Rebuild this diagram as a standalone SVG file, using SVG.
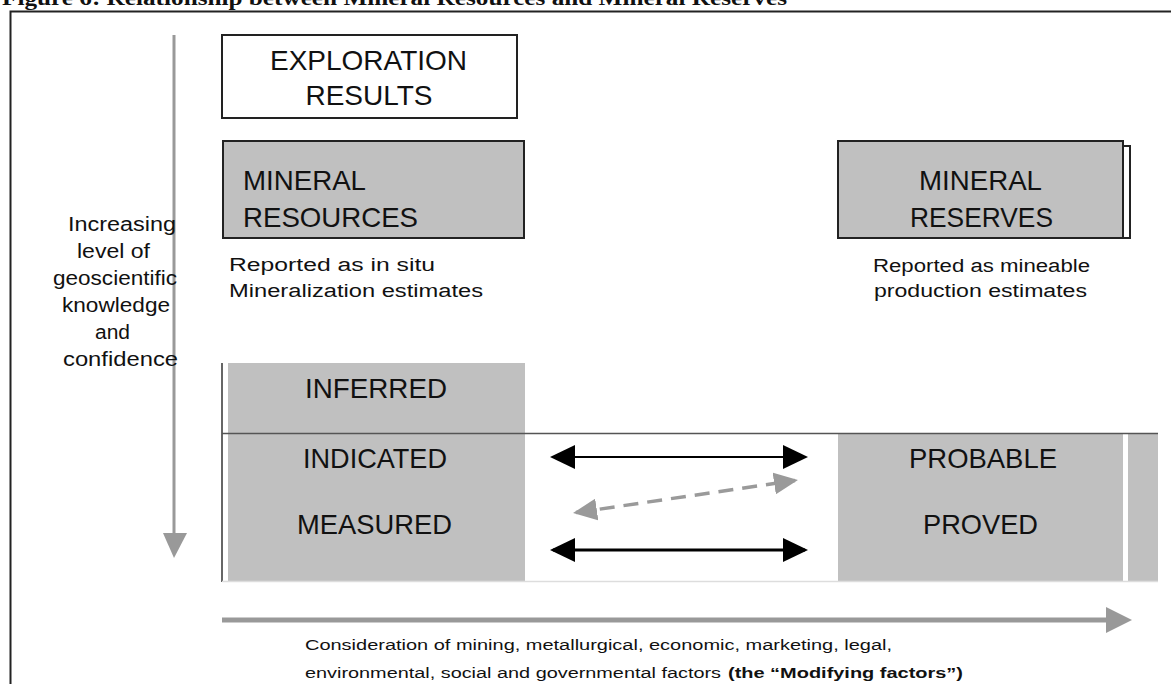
<svg xmlns="http://www.w3.org/2000/svg" width="1171" height="684" viewBox="0 0 1171 684">
<style>
  .t { font-family: "Liberation Sans", Arial, sans-serif; fill: #111; }
  .big { font-size: 28px; }
  .mid { font-size: 18px; }
  .side { font-size: 20px; }
  .sm { font-size: 15.5px; }
  .gray { fill: #c0c0c0; }
  .box { stroke: #222; stroke-width: 2; }
</style>
<defs>
  <marker id="blk" viewBox="0 0 25 24" refX="22" refY="12" markerWidth="25" markerHeight="24" markerUnits="userSpaceOnUse" orient="auto-start-reverse">
    <path d="M0,0 L25,12 L0,24 z" fill="#000"/>
  </marker>
  <marker id="gry" viewBox="0 0 24 22" refX="21" refY="11" markerWidth="24" markerHeight="22" markerUnits="userSpaceOnUse" orient="auto-start-reverse">
    <path d="M0,0 L24,11 L0,22 z" fill="#9a9a9a"/>
  </marker>
</defs>
<rect width="1171" height="684" fill="#fff"/>
<text x="2" y="5" font-family="'Liberation Serif', 'Times New Roman', serif" font-weight="bold" font-size="20" fill="#111" textLength="785" lengthAdjust="spacingAndGlyphs">Figure 6: Relationship between Mineral Resources and Mineral Reserves</text>
<path d="M10.5,684 V11.5 H1171" fill="none" stroke="#222" stroke-width="2"/>

<g id="axis-vertical">
  <line x1="174" y1="35" x2="174" y2="536" stroke="#999" stroke-width="3"/>
  <path d="M163,533 L187,533 L174,558 z" fill="#999"/>
  <g class="t side">
    <text x="68" y="231" textLength="108" lengthAdjust="spacingAndGlyphs">Increasing</text>
    <text x="77" y="258" textLength="73" lengthAdjust="spacingAndGlyphs">level of</text>
    <text x="53" y="285" textLength="124" lengthAdjust="spacingAndGlyphs">geoscientific</text>
    <text x="62" y="312" textLength="108" lengthAdjust="spacingAndGlyphs">knowledge</text>
    <text x="95" y="339" textLength="35" lengthAdjust="spacingAndGlyphs">and</text>
    <text x="63" y="366" textLength="115" lengthAdjust="spacingAndGlyphs">confidence</text>
  </g>
</g>

<g id="exploration-results">
  <rect x="222" y="35" width="295" height="83" fill="#fff" class="box"/>
  <text class="t big" x="270" y="70" textLength="197" lengthAdjust="spacingAndGlyphs">EXPLORATION</text>
  <text class="t big" x="369" y="105" text-anchor="middle">RESULTS</text>
</g>

<g id="mineral-resources">
  <rect x="223" y="141" width="301" height="97" class="gray box"/>
  <text class="t big" x="243" y="190" font-size="25" textLength="123" lengthAdjust="spacingAndGlyphs">MINERAL</text>
  <text class="t big" x="243" y="227" font-size="25" textLength="175" lengthAdjust="spacingAndGlyphs">RESOURCES</text>
  <text class="t mid" x="229" y="271" textLength="206" lengthAdjust="spacingAndGlyphs">Reported as in situ</text>
  <text class="t mid" x="229" y="297" textLength="254" lengthAdjust="spacingAndGlyphs">Mineralization estimates</text>
</g>

<g id="mineral-reserves">
  <rect x="838" y="141" width="285" height="97" class="gray box"/>
  <path d="M1123,146 H1130 V238 H1123" fill="none" stroke="#222" stroke-width="2"/>
  <text class="t big" x="919" y="190" font-size="25" textLength="123" lengthAdjust="spacingAndGlyphs">MINERAL</text>
  <text class="t big" x="910" y="227" font-size="25" textLength="143" lengthAdjust="spacingAndGlyphs">RESERVES</text>
  <text class="t mid" x="873" y="272" textLength="217" lengthAdjust="spacingAndGlyphs">Reported as mineable</text>
  <text class="t mid" x="874" y="297" textLength="213" lengthAdjust="spacingAndGlyphs">production estimates</text>
</g>

<g id="inferred">
  <rect x="228" y="363" width="297" height="71" class="gray"/>
  <text class="t big" x="305" y="398" textLength="142" lengthAdjust="spacingAndGlyphs">INFERRED</text>
</g>

<g id="indicated-measured">
  <rect x="228" y="434" width="297" height="147" class="gray"/>
  <text class="t big" x="303" y="468" textLength="144" lengthAdjust="spacingAndGlyphs">INDICATED</text>
  <text class="t big" x="297" y="534" textLength="155" lengthAdjust="spacingAndGlyphs">MEASURED</text>
</g>

<g id="probable-proved">
  <rect x="838" y="434" width="285" height="147" class="gray"/>
  <rect x="1128" y="434" width="30" height="147" class="gray"/>
  <text class="t big" x="909" y="468" textLength="148" lengthAdjust="spacingAndGlyphs">PROBABLE</text>
  <text class="t big" x="923" y="534" textLength="115" lengthAdjust="spacingAndGlyphs">PROVED</text>
</g>

<g id="frame-lines">
  <line x1="222" y1="363" x2="222" y2="582" stroke="#666" stroke-width="2"/>
  <line x1="222" y1="433.5" x2="1158" y2="433.5" stroke="#555" stroke-width="1.5"/>
  <line x1="222" y1="581.5" x2="1158" y2="581.5" stroke="#ddd" stroke-width="1.5"/>
</g>

<g id="connectors">
  <line x1="553" y1="457" x2="805" y2="457" stroke="#000" stroke-width="2" marker-start="url(#blk)" marker-end="url(#blk)"/>
  <line x1="553" y1="550" x2="805" y2="550" stroke="#000" stroke-width="3" marker-start="url(#blk)" marker-end="url(#blk)"/>
  <line x1="576" y1="512.6" x2="795" y2="480.4" stroke="#9a9a9a" stroke-width="3.5" stroke-dasharray="15,9" marker-start="url(#gry)" marker-end="url(#gry)"/>
  <line x1="222" y1="620" x2="1108" y2="620" stroke="#999" stroke-width="5"/>
  <path d="M1106,607 L1132,620 L1106,633 z" fill="#999"/>
</g>

<g id="modifying-factors" class="t sm">
  <text x="305" y="650" textLength="587" lengthAdjust="spacingAndGlyphs">Consideration of mining, metallurgical, economic, marketing, legal,</text>
  <text x="305" y="678" textLength="416" lengthAdjust="spacingAndGlyphs">environmental, social and governmental factors</text>
  <text x="728" y="678" font-weight="bold" textLength="235" lengthAdjust="spacingAndGlyphs">(the “Modifying factors”)</text>
</g>
</svg>
